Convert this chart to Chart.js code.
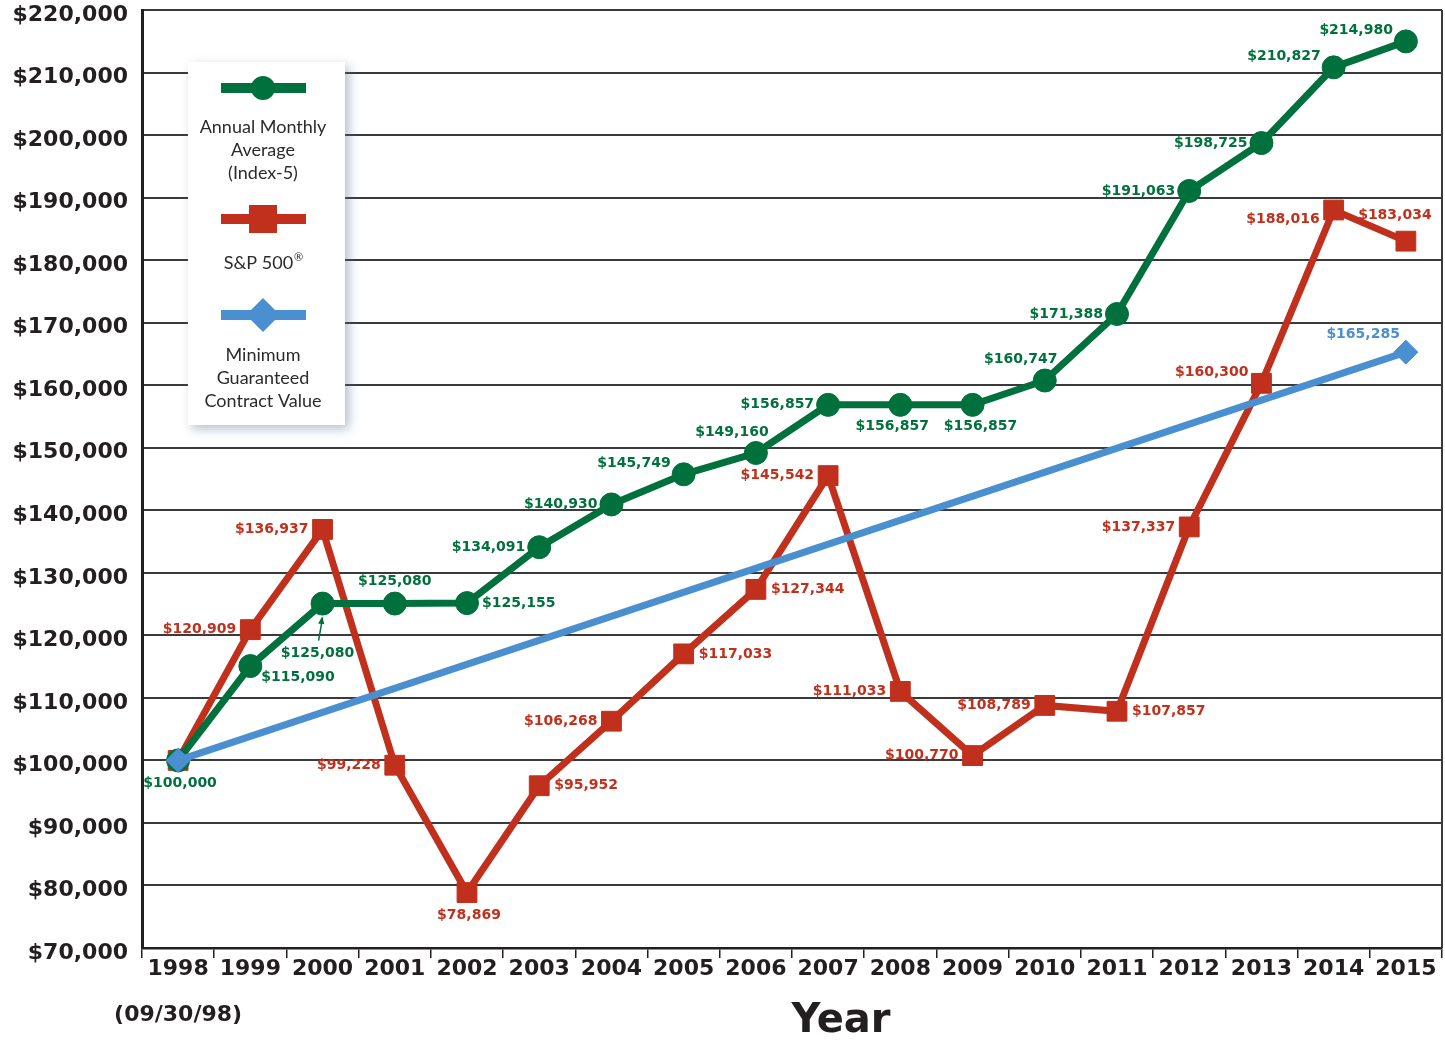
<!DOCTYPE html>
<html>
<head>
<meta charset="utf-8">
<script src="https://cdn.jsdelivr.net/npm/chart.js@4"></script>
<style>
  html, body { margin:0; background:#fff; overflow:hidden; }
  #wrap { width:1445px; height:1040px; }
  canvas { display:block; }
</style>
</head>
<body>
<div id="wrap"><canvas id="chart"></canvas></div>
<script>
// ---- Data ----
const years = ['1998','1999','2000','2001','2002','2003','2004','2005','2006','2007','2008','2009','2010','2011','2012','2013','2014','2015'];
const index5 = [100000,115090,125080,125080,125155,134091,140930,145749,149160,156857,156857,156857,160747,171388,191063,198725,210827,214980];
const sp500 = [100000,120909,136937,99228,78869,95952,106268,117033,127344,145542,111033,100770,108789,107857,137337,160300,188016,183034];
const minGuaranteed = [100000,null,null,null,null,null,null,null,null,null,null,null,null,null,null,null,null,165285];
const yTicks = { min:70000, max:220000, step:10000 };

// where each value label sits relative to its point
const index5Spots = ['b','rb','up','t','r','l','l','lt','tl','l','bl','br','tl','l','l','l','lt','lt'];
const sp500Spots  = [null,'l','l','l','b','r','l','r','r','l','l','l','l','r','l','lt','lb','t2'];
const minSpots    = [null,null,null,null,null,null,null,null,null,null,null,null,null,null,null,null,null,'bt'];

const GREEN = '#00703c', RED = '#c0301c', BLUE = '#4a8fcf', INK = '#231f20';
const fmt = n => '$' + n.toLocaleString('en-US');

const spots = {
  l:  [-14, 0, 'right'],
  lt: [-13, -11, 'right'],
  lb: [-14, 9, 'right'],
  r:  [15, 0, 'left'],
  rb: [11, 11, 'left'],
  t:  [0, -22, 'center'],
  t2: [-11, -26, 'center'],
  tl: [-24, -21, 'center'],
  b:  [2, 23, 'center'],
  bl: [-8, 22, 'center'],
  br: [8, 22, 'center'],
  bt: [-6, -18, 'right'],
  up: [-5, 50, 'center']
};

// ---- Plugins ----
const valueLabels = {
  id: 'valueLabels',
  afterDatasetsDraw(chart) {
    const ctx = chart.ctx;
    ctx.save();
    ctx.font = 'bold 14px "DejaVu Sans"';
    ctx.textBaseline = 'middle';
    chart.data.datasets.forEach((ds, di) => {
      const meta = chart.getDatasetMeta(di);
      meta.data.forEach((pt, i) => {
        const code = ds.spots[i];
        if (!code || ds.data[i] == null) return;
        const [dx, dy, align] = spots[code];
        ctx.fillStyle = ds.borderColor;
        ctx.textAlign = align;
        ctx.fillText(fmt(ds.data[i]), pt.x + dx, pt.y + dy);
        if (code === 'up') {
          ctx.strokeStyle = ds.borderColor;
          ctx.lineWidth = 1.5;
          ctx.beginPath();
          ctx.moveTo(pt.x - 4, pt.y + 37);
          ctx.lineTo(pt.x, pt.y + 14);
          ctx.stroke();
          ctx.beginPath();
          ctx.moveTo(pt.x - 0.3, pt.y + 13);
          ctx.lineTo(pt.x - 4.5, pt.y + 20);
          ctx.lineTo(pt.x + 1.8, pt.y + 20.8);
          ctx.closePath();
          ctx.fillStyle = ds.borderColor;
          ctx.fill();
        }
      });
    });
    ctx.restore();
  }
};

const frame = {
  id: 'frame',
  afterDraw(chart) {
    const { ctx, chartArea: a } = chart;
    ctx.save();
    // right border
    ctx.strokeStyle = '#3a3a3a';
    ctx.lineWidth = 2;
    ctx.beginPath();
    ctx.moveTo(a.right, a.top);
    ctx.lineTo(a.right, a.bottom);
    ctx.stroke();

    // axis title
    ctx.fillStyle = INK;
    ctx.font = 'bold 40px "DejaVu Sans"';
    ctx.textAlign = 'center';
    ctx.textBaseline = 'middle';
    ctx.fillText('Year', 841, 1022);

    // legend box
    const bx = 188, by = 62, bw = 157, bh = 363;
    ctx.shadowColor = 'rgba(90,115,150,0.45)';
    ctx.shadowBlur = 10;
    ctx.shadowOffsetX = 4;
    ctx.shadowOffsetY = 4;
    ctx.fillStyle = '#fff';
    ctx.fillRect(bx, by, bw, bh);
    ctx.shadowColor = 'transparent';

    const cx = 263;
    const items = [
      { ds: 1, y: 88,  lines: ['Annual Monthly','Average','(Index-5)'], ty: 127 },
      { ds: 2, y: 219, lines: ['S&P 500'], sup: '®', ty: 263 },
      { ds: 0, y: 315, lines: ['Minimum','Guaranteed','Contract Value'], ty: 355 }
    ];
    items.forEach(it => {
      const ds = chart.data.datasets[it.ds];
      ctx.fillStyle = ds.borderColor;
      ctx.fillRect(cx - 42, it.y - 5, 85, 10);
      ctx.beginPath();
      if (ds.pointStyle === 'circle') {
        ctx.arc(cx, it.y, 12, 0, Math.PI * 2);
      } else if (ds.pointStyle === 'rect') {
        ctx.rect(cx - 14, it.y - 14, 28, 28);
      } else {
        ctx.moveTo(cx - 17, it.y); ctx.lineTo(cx, it.y - 17);
        ctx.lineTo(cx + 17, it.y); ctx.lineTo(cx, it.y + 17);
        ctx.closePath();
      }
      ctx.fill();
      ctx.fillStyle = '#2b2b2b';
      ctx.font = '18px Lato';
      ctx.textAlign = 'center';
      it.lines.forEach((t, k) => {
        if (it.sup) {
          const w = ctx.measureText(t).width;
          ctx.font = '11px Lato';
          const sw = ctx.measureText(it.sup).width;
          ctx.font = '18px Lato';
          ctx.textAlign = 'left';
          const x0 = cx - (w + sw) / 2;
          ctx.fillText(t, x0, it.ty + k * 23);
          ctx.font = '11px Lato';
          ctx.fillText(it.sup, x0 + w + 1, it.ty + k * 23 - 6);
          ctx.font = '18px Lato';
          ctx.textAlign = 'center';
        } else {
          ctx.fillText(t, cx, it.ty + k * 23);
        }
      });
    });
    ctx.restore();
  }
};

// ---- Chart ----
new Chart(document.getElementById('chart'), {
  type: 'line',
  data: {
    labels: years.map((y, i) => i === 0 ? [y, '', '(09/30/98)'] : y),
    datasets: [
      {
        label: 'Minimum Guaranteed Contract Value',
        data: minGuaranteed, spots: minSpots, spanGaps: true, order: 0,
        borderColor: BLUE, backgroundColor: BLUE, borderWidth: 7,
        pointStyle: 'rectRot', pointRadius: 12, pointBorderWidth: 1, pointBorderColor: BLUE
      },
      {
        label: 'Annual Monthly Average (Index-5)',
        data: index5, spots: index5Spots, order: 1,
        borderColor: GREEN, backgroundColor: GREEN, borderWidth: 7,
        pointStyle: 'circle', pointRadius: 11.5, pointBorderWidth: 1, pointBorderColor: GREEN
      },
      {
        label: 'S&P 500®',
        data: sp500, spots: sp500Spots, order: 2,
        borderColor: RED, backgroundColor: RED, borderWidth: 7,
        pointStyle: 'rect', pointRadius: 14, pointBorderWidth: 1, pointBorderColor: RED
      }
    ]
  },
  options: {
    responsive: true,
    maintainAspectRatio: false,
    animation: false,
    layout: { autoPadding: false, padding: { top: 0, right: 3, left: 0, bottom: 0 } },
    plugins: { legend: { display: false }, tooltip: { enabled: false } },
    elements: { line: { tension: 0 } },
    scales: {
      x: {
        offset: true,
        grid: { offset: true, drawOnChartArea: false, drawTicks: true, tickLength: 10, color: INK, lineWidth: 1.5 },
        border: { color: INK, width: 2.5 },
        ticks: {
          color: INK, padding: 0, maxRotation: 0, autoSkip: false,
          font: { family: 'DejaVu Sans', weight: 'bold', size: 22, lineHeight: 1.05 }
        },
        afterFit: s => { s.height = 92; s.paddingLeft = 0; s.paddingRight = 0; }
      },
      y: {
        min: yTicks.min, max: yTicks.max,
        grid: { color: '#3a3a3a', lineWidth: 2, drawTicks: false },
        border: { color: INK, width: 3 },
        ticks: {
          stepSize: yTicks.step, color: INK, padding: 14, labelOffset: 5,
          font: { family: 'DejaVu Sans', weight: 'bold', size: 22, lineHeight: 1 },
          callback: v => fmt(v)
        },
        afterFit: s => { s.width = 142; s.paddingTop = 10; s.paddingBottom = 0; }
      }
    }
  },
  plugins: [valueLabels, frame]
});
</script>
</body>
</html>
